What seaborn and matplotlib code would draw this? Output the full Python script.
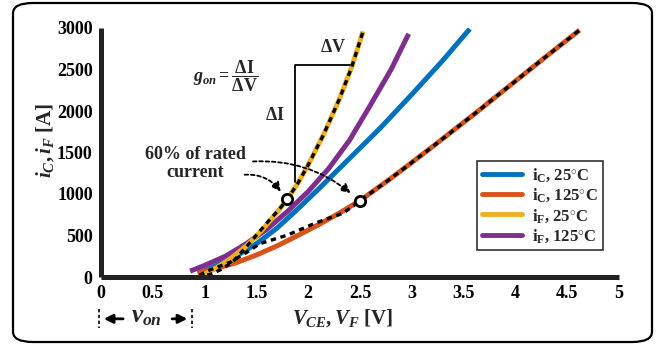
import matplotlib
matplotlib.use('Agg')
import matplotlib.pyplot as plt
from matplotlib.lines import Line2D
from matplotlib.patches import FancyBboxPatch
import numpy as np
import pandas as pd
import seaborn as sns

# curves: voltage [V], current [A]
v_ic25 = [0.95, 1.1, 1.3, 1.5, 1.7, 1.9, 2.1, 2.4, 2.7, 3.0, 3.3, 3.56]
i_ic25 = [50, 130, 250, 400, 590, 820, 1060, 1430, 1800, 2200, 2610, 2990]
v_ic125 = [0.93, 1.1, 1.3, 1.5, 1.7, 1.9, 2.1, 2.3, 2.5, 2.8, 3.2, 3.6, 4.0, 4.3, 4.62]
i_ic125 = [50, 100, 170, 265, 375, 500, 630, 770, 920, 1190, 1570, 1960, 2360, 2660, 2975]
v_if25 = [0.98, 1.1, 1.25, 1.4, 1.55, 1.7, 1.8, 1.9, 2.0, 2.15, 2.3, 2.42, 2.53]
i_if25 = [20, 100, 220, 370, 560, 780, 940, 1130, 1350, 1720, 2140, 2530, 2960]
v_if125 = [0.86, 1.0, 1.2, 1.4, 1.6, 1.8, 2.0, 2.2, 2.4, 2.6, 2.8, 2.97]
i_if125 = [70, 140, 250, 400, 575, 790, 1030, 1310, 1650, 2070, 2500, 2930]

# dashed fits
v_fit_f = [0.93, 1.05, 1.15, 1.27, 1.46, 1.6, 1.73, 1.8, 1.9, 2.0, 2.15, 2.3, 2.42, 2.53]
i_fit_f = [0, 30, 85, 180, 445, 650, 830, 940, 1130, 1350, 1720, 2140, 2530, 2960]
v_fit_c = [0.95, 1.05, 1.25, 1.41, 1.53, 1.8, 2.07, 2.34, 2.5, 2.8, 3.2, 3.6, 4.0, 4.3, 4.62]
i_fit_c = [20, 84, 180, 300, 400, 505, 650, 770, 920, 1190, 1570, 1960, 2360, 2660, 2975]

# 60% rated current operating points
v_op = [1.8, 2.5]
i_op = [940, 920]

labels = [r'i$_{\rm C}$, 25$^{\circ}$C', r'i$_{\rm C}$, 125$^{\circ}$C',
          r'i$_{\rm F}$, 25$^{\circ}$C', r'i$_{\rm F}$, 125$^{\circ}$C']
colors = ['#0072BD', '#D95319', '#EDB120', '#7E2F8E']

sns.set_theme(style='white')
plt.rcParams['font.family'] = ['Liberation Serif', 'DejaVu Serif']
plt.rcParams['font.weight'] = 'bold'
plt.rcParams['mathtext.fontset'] = 'custom'
plt.rcParams['mathtext.rm'] = 'Liberation Serif:bold'
plt.rcParams['mathtext.it'] = 'Liberation Serif:italic:bold'
plt.rcParams['mathtext.bf'] = 'Liberation Serif:bold'

frames = []
for name, vv, ii in zip(labels, [v_ic25, v_ic125, v_if25, v_if125],
                        [i_ic25, i_ic125, i_if25, i_if125]):
    frames.append(pd.DataFrame({'v': vv, 'i': ii, 'curve': name}))
df = pd.concat(frames, ignore_index=True)

fig = plt.figure(figsize=(6.62, 3.44), dpi=100)
ax = fig.add_axes([101/662, 67/344, 518/662, 249/344])

draw_order = [0, 1, 3, 2]
for k in draw_order:
    sns.lineplot(data=df[df['curve'] == labels[k]], x='v', y='i', color=colors[k],
                 linewidth=3.6, sort=False, estimator=None, ax=ax, legend=False,
                 solid_capstyle='butt', solid_joinstyle='round')

for vv, ii in [(v_fit_f, i_fit_f), (v_fit_c, i_fit_c)]:
    ax.plot(vv, ii, color='black', linewidth=2.4, linestyle=(0, (1.6, 1.4)))

ax.scatter(v_op, i_op, s=55, facecolor='white', edgecolor='black', linewidth=2, zorder=5)

ax.set_xlim(0, 5)
ax.set_ylim(0, 3000)
ax.set_xticks([0, 0.5, 1, 1.5, 2, 2.5, 3, 3.5, 4, 4.5, 5])
ax.set_xticklabels(['0', '0.5', '1', '1.5', '2', '2.5', '3', '3.5', '4', '4.5', '5'])
ax.set_yticks([0, 500, 1000, 1500, 2000, 2500, 3000])
sns.despine(ax=ax)
for s in ['left', 'bottom']:
    ax.spines[s].set_linewidth(3.6)
    ax.spines[s].set_color('#222222')
    ax.spines[s].set_capstyle('butt')
ax.tick_params(axis='both', direction='in', length=6, width=3.5, color='#222222',
               labelsize=13, pad=6, labelcolor='black')
for t in ax.get_xticklabels() + ax.get_yticklabels():
    t.set_fontweight('bold')
ax.set_xlabel('')
ax.set_ylabel('')

# axis labels
fig.text(45/662, 1 - 140/344, r'$i_C, i_F$ [A]', rotation=90, ha='center', va='center',
         fontsize=15, fontweight='bold')
ax.text(2.33, -0.165, r'$V_{CE}, V_F$ [V]', transform=ax.get_xaxis_transform(),
        ha='center', va='center', fontsize=15, fontweight='bold')

# v_on marker under the axis
tr = ax.get_xaxis_transform()
for xv in [-0.02, 0.88]:
    ax.plot([xv, xv], [-0.13, -0.205], transform=tr, color='black', linewidth=1.2,
            linestyle=(0, (2, 1.5)), clip_on=False)
ax.text(0.44, -0.16, r'$v_{on}$', transform=tr, ha='center', va='center', fontsize=18)
ax.annotate('', xy=(0.0, -0.168), xytext=(0.24, -0.168), xycoords=tr, textcoords=tr,
            arrowprops=dict(arrowstyle='-|>', color='black', lw=2, mutation_scale=13))
ax.annotate('', xy=(0.86, -0.168), xytext=(0.66, -0.168), xycoords=tr, textcoords=tr,
            arrowprops=dict(arrowstyle='-|>', color='black', lw=2, mutation_scale=13))

# transconductance construction
ax.plot([1.87, 1.87, 2.40], [1150, 2560, 2560], color='black', linewidth=1.3)
ax.text(2.24, 2770, r'$\mathbf{\Delta}$V', ha='center', va='center', fontsize=13)
ax.text(1.68, 1950, r'$\mathbf{\Delta}$I', ha='center', va='center', fontsize=13)
ax.text(1.2, 2420, r'$g_{on} = \dfrac{\mathbf{\Delta I}}{\mathbf{\Delta V}}$',
        ha='center', va='center', fontsize=13)

# rated current note
ax.text(0.91, 1370, '60% of rated\ncurrent', ha='center', va='center', fontsize=13,
        linespacing=1.1)
ax.annotate('', xy=(2.43, 990), xytext=(1.44, 1390),
            arrowprops=dict(arrowstyle='-|>', color='black', lw=1.3, linestyle=(0, (2, 1.5)),
                            connectionstyle='arc3,rad=-0.2', mutation_scale=14))
ax.annotate('', xy=(1.75, 1000), xytext=(1.36, 1230),
            arrowprops=dict(arrowstyle='-|>', color='black', lw=1.3, linestyle=(0, (2, 1.5)),
                            connectionstyle='arc3,rad=-0.3', mutation_scale=14))

handles = [Line2D([], [], color=c, linewidth=3.5) for c in colors]
leg = ax.legend(handles, labels, loc='upper left', bbox_to_anchor=(0.726, 0.465),
                fontsize=12, frameon=True, fancybox=False, handlelength=2.4,
                borderpad=0.3, labelspacing=0.15, handletextpad=0.6, borderaxespad=0)
leg.get_frame().set_edgecolor('black')
leg.get_frame().set_linewidth(1.2)

# rounded border around the whole figure
fig.patches.append(FancyBboxPatch((13/662, 2/344), 639/662, 339/344,
                                  boxstyle='round,pad=0,rounding_size=0.03',
                                  transform=fig.transFigure, fill=False,
                                  edgecolor='black', linewidth=1.6))

fig.savefig('out.png', dpi=100)
